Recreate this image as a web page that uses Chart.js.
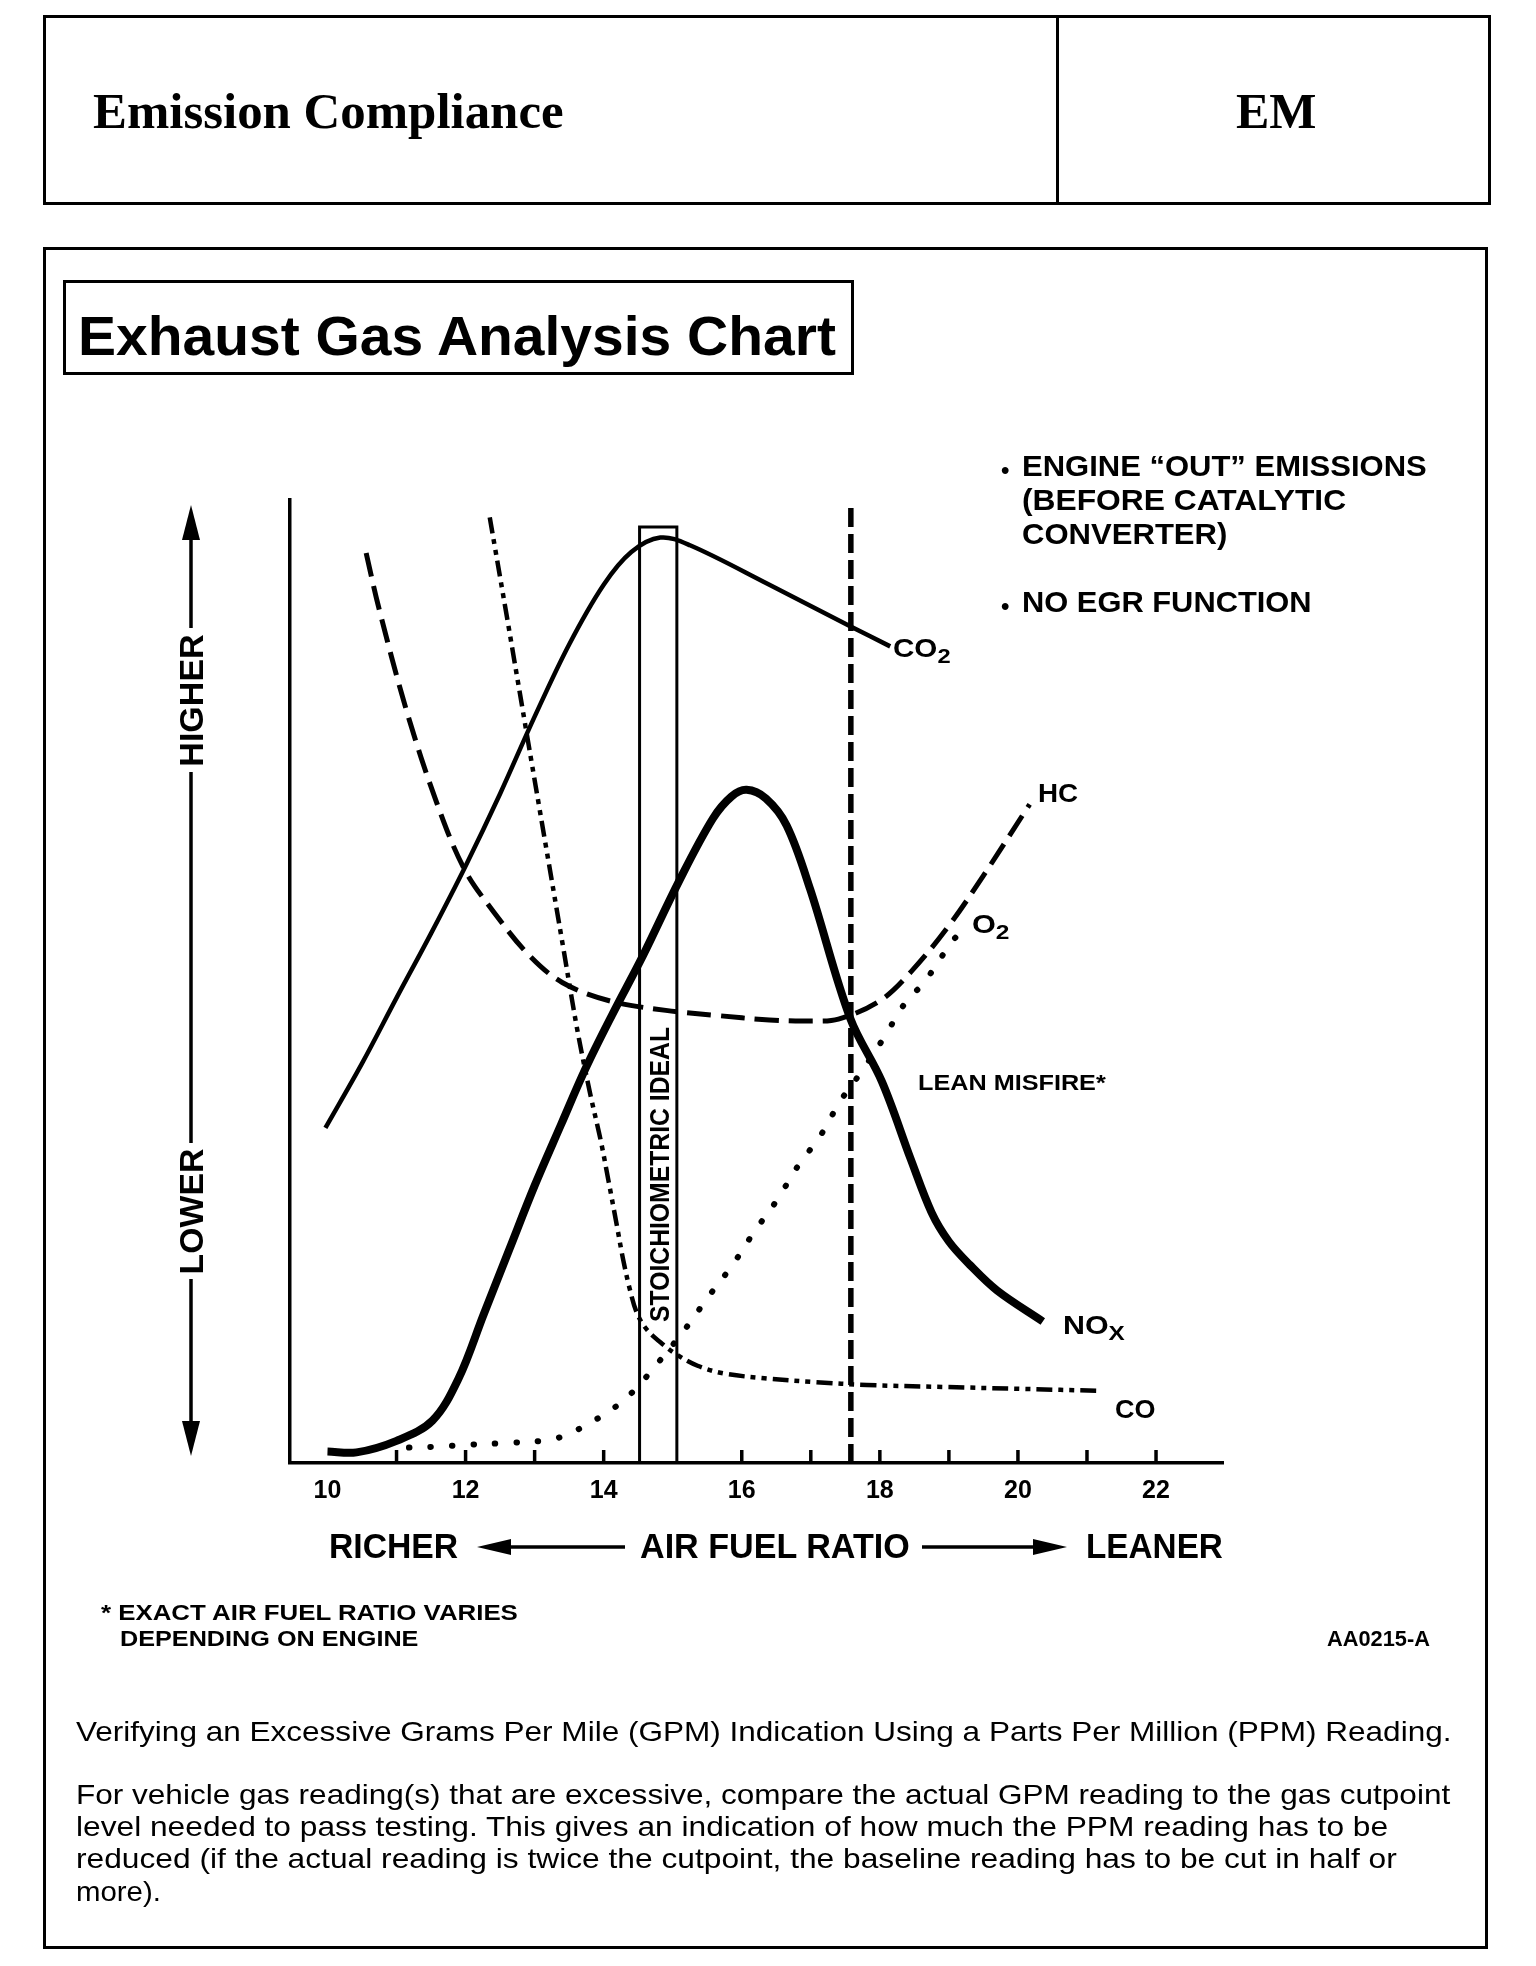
<!DOCTYPE html>
<html>
<head>
<meta charset="utf-8">
<title>Exhaust Gas Analysis Chart</title>
<script src="https://cdn.jsdelivr.net/npm/chart.js@4.4.1/dist/chart.umd.min.js"></script>
<style>
  html, body { margin: 0; padding: 0; background: #fff; }
  #page { position: relative; width: 1536px; height: 1966px; overflow: hidden; background: #fff; color: #000; }
  #chart { position: absolute; left: 0; top: 0; }
  .box { position: absolute; border: 3px solid #000; box-sizing: border-box; }
  .t {
    position: absolute; white-space: nowrap; line-height: 1; transform-origin: 0 0;
    font-family: "Liberation Sans", Arial, Helvetica, sans-serif; font-weight: bold;
  }
  .serif { font-family: "Liberation Serif", "Times New Roman", serif; }
  .reg { font-weight: normal; }
  sub { font-size: 0.8em; vertical-align: -0.3em; line-height: 0; }
  svg { position: absolute; left: 0; top: 0; }
</style>
</head>
<body>
<div id="page">
  <canvas id="chart" width="1536" height="1966"></canvas>

  <!-- page frames -->
  <div class="box" style="left:43px;top:15px;width:1448px;height:190px"></div>
  <div style="position:absolute;left:1056px;top:15px;width:3px;height:190px;background:#000"></div>
  <div class="box" style="left:43px;top:247px;width:1445px;height:1702px"></div>
  <div class="box" style="left:63px;top:280px;width:791px;height:95px"></div>

  <!-- arrows beside the axes -->
  <svg width="1536" height="1966">
    <g stroke="#000" stroke-width="3.5">
      <line x1="191" y1="530" x2="191" y2="628"/>
      <line x1="191" y1="772" x2="191" y2="1143"/>
      <line x1="191" y1="1279" x2="191" y2="1432"/>
      <line x1="505" y1="1547" x2="625" y2="1547"/>
      <line x1="922" y1="1547" x2="1040" y2="1547"/>
    </g>
    <g fill="#000">
      <polygon points="191,505 182,540 200,540"/>
      <polygon points="191,1456 182,1421 200,1421"/>
      <polygon points="477,1547 511,1539 511,1555"/>
      <polygon points="1067,1547 1033,1539 1033,1555"/>
    </g>
  </svg>

  <div class="t serif" data-x="93" data-cy="111.5" data-w="471" data-s="50">Emission Compliance</div>
  <div class="t serif" data-x="1236" data-cy="111.5" data-w="81" data-s="50">EM</div>
  <div class="t" data-x="78" data-cy="335" data-w="758" data-s="56">Exhaust Gas Analysis Chart</div>

  <div class="t" data-x="1001" data-cy="470" data-s="24">•</div>
  <div class="t" data-x="1022" data-cy="466" data-w="405" data-s="30">ENGINE “OUT” EMISSIONS</div>
  <div class="t" data-x="1022" data-cy="500" data-w="324" data-s="30">(BEFORE CATALYTIC</div>
  <div class="t" data-x="1022" data-cy="534" data-w="205" data-s="30">CONVERTER)</div>
  <div class="t" data-x="1001" data-cy="606" data-s="24">•</div>
  <div class="t" data-x="1022" data-cy="602" data-w="290" data-s="30">NO EGR FUNCTION</div>

  <div class="t" data-x="191" data-cy="700" data-w="132" data-s="33" data-rot="1">HIGHER</div>
  <div class="t" data-x="191" data-cy="1211" data-w="126" data-s="33" data-rot="1">LOWER</div>
  <div class="t" data-x="660" data-cy="1174" data-w="295" data-s="27" data-rot="1">STOICHIOMETRIC IDEAL</div>

  <div class="t" data-x="893" data-cy="648" data-w="58" data-s="25">CO<sub>2</sub></div>
  <div class="t" data-x="1038" data-cy="793" data-w="40" data-s="25">HC</div>
  <div class="t" data-x="972" data-cy="924" data-w="38" data-s="25">O<sub>2</sub></div>
  <div class="t" data-x="918" data-cy="1083" data-w="188" data-s="22">LEAN MISFIRE*</div>
  <div class="t" data-x="1063" data-cy="1325" data-w="62" data-s="25">NO<sub>X</sub></div>
  <div class="t" data-x="1115" data-cy="1409" data-w="41" data-s="25">CO</div>

  <div class="t" data-x="329" data-cy="1545" data-w="129" data-s="35">RICHER</div>
  <div class="t" data-x="640" data-cy="1545" data-w="270" data-s="35">AIR FUEL RATIO</div>
  <div class="t" data-x="1086" data-cy="1545" data-w="137" data-s="35">LEANER</div>

  <div class="t" data-x="101" data-cy="1613" data-w="417" data-s="22">* EXACT AIR FUEL RATIO VARIES</div>
  <div class="t" data-x="120" data-cy="1639" data-w="298" data-s="22">DEPENDING ON ENGINE</div>
  <div class="t" data-x="1327" data-cy="1639" data-w="103" data-s="22">AA0215-A</div>

  <div class="t reg" data-x="76" data-cy="1732" data-w="1376" data-s="28">Verifying an Excessive Grams Per Mile (GPM) Indication Using a Parts Per Million (PPM) Reading.</div>
  <div class="t reg" data-x="76" data-cy="1795" data-w="1374" data-s="28">For vehicle gas reading(s) that are excessive, compare the actual GPM reading to the gas cutpoint</div>
  <div class="t reg" data-x="76" data-cy="1827" data-w="1312" data-s="28">level needed to pass testing. This gives an indication of how much the PPM reading has to be</div>
  <div class="t reg" data-x="76" data-cy="1859" data-w="1321" data-s="28">reduced (if the actual reading is twice the cutpoint, the baseline reading has to be cut in half or</div>
  <div class="t reg" data-x="76" data-cy="1892" data-w="85" data-s="28">more).</div>
</div>

<script>
// air fuel ratio on x, relative level (0 = lower, 100 = higher) on y
const xTickLabels = [10, 12, 14, 16, 18, 20, 22]
const xTickMarks  = [11, 12, 13, 14, 16, 17, 18, 19, 20, 21, 22]

const co2X = [9.97, 10.5, 11.0, 11.5, 12.0, 12.5, 13.0, 13.5, 14.0, 14.4, 14.82, 15.25, 16.4, 17.57, 18.15]
const co2Y = [34.8, 41.5, 48.3, 55.0, 62.0, 69.5, 77.5, 85.0, 91.2, 94.6, 96.1, 95.3, 91.2, 86.9, 84.8]

const hcX = [10.56, 10.74, 11.15, 11.58, 11.98, 12.41, 12.91, 13.40, 14.08, 14.9, 15.6, 16.4, 17.0, 17.4, 18.0, 18.45, 19.0, 19.5, 20.17]
const hcY = [94.5, 88.9, 78.0, 68.6, 61.7, 57.2, 52.8, 49.9, 48.0, 47.0, 46.5, 46.0, 45.9, 46.1, 48.0, 51.0, 55.8, 61.0, 68.4]

const coX = [12.35, 12.6, 12.87, 13.16, 13.41, 13.62, 13.80, 13.96, 14.07, 14.19, 14.28, 14.38, 14.48, 14.62, 14.86, 15.07, 15.36, 15.74, 16.33, 17.07, 17.81, 18.91, 20.03, 21.19]
const coY = [98.2, 87.8, 76.4, 64.2, 53.7, 44.9, 38.5, 33.4, 29.3, 24.7, 21.2, 18.0, 15.6, 13.9, 12.3, 11.2, 10.1, 9.3, 8.8, 8.4, 8.1, 7.9, 7.7, 7.5]

const noxX = [10.0, 10.42, 11.0, 11.52, 11.90, 12.26, 12.64, 13.0, 13.38, 13.74, 14.12, 14.57, 15.09, 15.58, 15.85, 16.07, 16.35, 16.65, 16.99, 17.57, 18.03, 18.45, 18.75, 19.0, 19.3, 19.7, 20.36]
const noxY = [1.2, 1.1, 2.3, 4.4, 8.8, 15.4, 22.3, 28.8, 35.1, 41.0, 46.5, 52.7, 60.4, 66.9, 69.2, 69.9, 69.0, 66.2, 59.6, 46.2, 39.6, 31.5, 26.0, 23.0, 20.6, 17.9, 14.7]

const o2X = [11.18, 11.6, 12.04, 12.64, 13.22, 13.52, 13.76, 14.0, 14.22, 14.45, 14.81, 15.19, 15.52, 15.86, 16.17, 16.51, 16.81, 17.14, 17.43, 17.77, 18.07, 18.36, 18.65, 19.03, 19.15]
const o2Y = [1.6, 1.7, 1.9, 2.1, 2.4, 3.1, 4.0, 5.0, 6.1, 7.6, 10.6, 14.0, 17.3, 20.5, 23.9, 27.3, 30.8, 34.0, 37.6, 41.0, 44.3, 47.7, 50.0, 54.0, 55.0]

// stoichiometric band and lean misfire limit
const bandX = [14.52, 14.52, 15.06, 15.06]
const bandY = [0, 97.2, 97.2, 0]
const leanX = [17.58, 17.58]
const leanY = [0, 99.6]

const pts = (xs, ys) => xs.map((x, i) => ({ x, y: ys[i] }))

const innerTicks = {
  id: "innerTicks",
  afterDraw(chart) {
    const { ctx, chartArea } = chart
    const x = chart.scales.x
    ctx.save()
    ctx.strokeStyle = "#000"
    ctx.lineWidth = 3.5
    xTickMarks.forEach(v => {
      const px = x.getPixelForValue(v)
      ctx.beginPath()
      ctx.moveTo(px, chartArea.bottom)
      ctx.lineTo(px, chartArea.bottom - 13)
      ctx.stroke()
    })
    ctx.restore()
  },
}

const line = (data, extra) => Object.assign({
  data, borderColor: "#000", backgroundColor: "#000", fill: false,
  pointRadius: 0, tension: 0.35, borderWidth: 4.5,
}, extra)

new Chart(document.getElementById("chart"), {
  type: "line",
  data: {
    datasets: [
      line(pts(noxX, noxY), { label: "NOx", borderWidth: 8 }),
      line(pts(co2X, co2Y), { label: "CO2" }),
      line(pts(hcX, hcY),   { label: "HC", borderWidth: 5, borderDash: [24, 10] }),
      line(pts(coX, coY),   { label: "CO", borderDash: [16, 6, 5, 6, 5, 6] }),
      line(pts(o2X, o2Y),   { label: "O2", borderWidth: 6, borderDash: [0.5, 21], borderCapStyle: "round" }),
      line(pts(bandX, bandY), { label: "Stoichiometric ideal", borderWidth: 3, tension: 0 }),
      line(pts(leanX, leanY), { label: "Lean misfire", borderWidth: 5.5, borderDash: [19, 7], tension: 0 }),
    ],
  },
  options: {
    responsive: false,
    devicePixelRatio: 1,
    animation: false,
    layout: { padding: { left: 290, top: 500, right: 313, bottom: 453 } },
    plugins: { legend: { display: false }, tooltip: { enabled: false } },
    scales: {
      x: {
        type: "linear", min: 9.457, max: 22.97,
        grid: { display: false },
        border: { display: true, color: "#000", width: 3.5 },
        afterBuildTicks: s => { s.ticks = xTickLabels.map(v => ({ value: v })) },
        afterFit: s => { s.height = 50 },
        ticks: {
          color: "#000", padding: 5, autoSkip: false, maxRotation: 0,
          font: { family: "'Liberation Sans', Arial, sans-serif", weight: "bold", size: 25 },
        },
      },
      y: {
        type: "linear", min: 0, max: 100,
        grid: { display: false },
        border: { display: true, color: "#000", width: 3.5 },
        ticks: { display: false },
        afterFit: s => { s.width = 0 },
      },
    },
  },
  plugins: [innerTicks],
})

// place the page texts, stretching each line to its measured width
function placeText() {
  document.querySelectorAll(".t").forEach(el => {
    const s = +el.dataset.s
    el.style.fontSize = s + "px"
    const capOff = el.classList.contains("serif") ? 0.5065 : 0.4885
    const w0 = el.offsetWidth
    const k = el.dataset.w ? (+el.dataset.w / w0) : 1
    const x = +el.dataset.x, cy = +el.dataset.cy
    if (el.dataset.rot) {
      el.style.left = (x - w0 / 2) + "px"
      el.style.top = (cy - el.offsetHeight / 2) + "px"
      el.style.transformOrigin = "50% 50%"
      el.style.transform = `rotate(-90deg) scaleX(${k})`
    } else {
      el.style.left = x + "px"
      el.style.top = (cy - capOff * s) + "px"
      el.style.transform = `scaleX(${k})`
    }
  })
}
placeText()
if (document.fonts) document.fonts.ready.then(placeText)
</script>
</body>
</html>
